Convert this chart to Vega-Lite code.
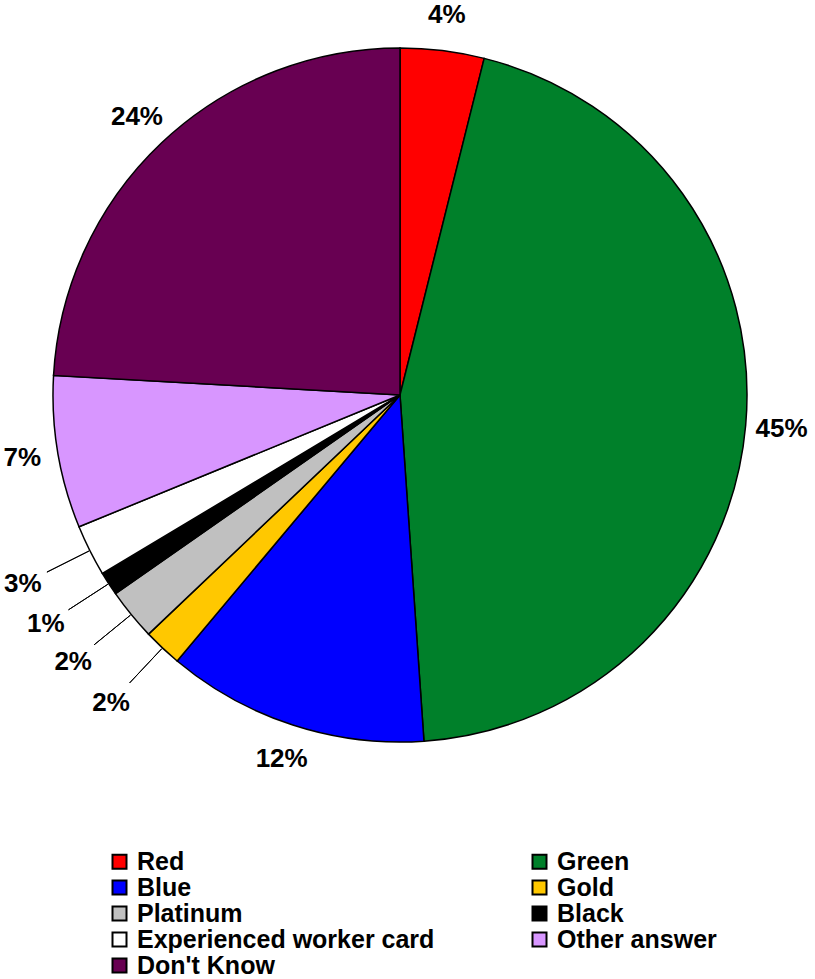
{
  "$schema": "https://vega.github.io/schema/vega-lite/v6.json",
  "width": 800,
  "height": 790,
  "padding": 0,
  "background": "white",
  "view": {"stroke": null},
  "data": {
    "values": [
      {"order": 1, "category": "Red", "value": 3.9, "label": "4%"},
      {"order": 2, "category": "Green", "value": 45.0, "label": "45%"},
      {"order": 3, "category": "Blue", "value": 12.2, "label": "12%"},
      {"order": 4, "category": "Gold", "value": 1.8, "label": "2%"},
      {"order": 5, "category": "Platinum", "value": 2.4, "label": "2%"},
      {"order": 6, "category": "Black", "value": 1.1, "label": "1%"},
      {"order": 7, "category": "Experienced worker card", "value": 2.4, "label": "3%"},
      {"order": 8, "category": "Other answer", "value": 7.1, "label": "7%"},
      {"order": 9, "category": "Don't Know", "value": 24.1, "label": "24%"}
    ]
  },
  "transform": [
    {"window": [{"op": "sum", "field": "value", "as": "end"}], "sort": [{"field": "order"}]},
    {"calculate": "datum.end - datum.value", "as": "start"},
    {"calculate": "datum.end - datum.value / 2", "as": "mid"}
  ],
  "layer": [
    {
      "mark": {"type": "arc", "radius": 347, "stroke": "black", "strokeWidth": 1.5},
      "encoding": {
        "theta": {
          "field": "start",
          "type": "quantitative",
          "scale": {"domain": [0, 100], "range": [0, 6.283185307179586]}
        },
        "theta2": {"field": "end"},
        "color": {
          "field": "category",
          "type": "nominal",
          "scale": {
            "domain": ["Red", "Green", "Blue", "Gold", "Platinum", "Black", "Experienced worker card", "Other answer", "Don't Know"],
            "range": ["#ff0000", "#00802a", "#0000ff", "#ffc800", "#c0c0c0", "#000000", "#ffffff", "#d896ff", "#680052"]
          },
          "legend": {
            "orient": "none",
            "direction": "horizontal",
            "legendX": 107,
            "legendY": 849,
            "columns": 2,
            "title": null,
            "symbolType": "square",
            "symbolSize": 196,
            "symbolStrokeColor": "black",
            "symbolStrokeWidth": 2,
            "symbolOpacity": 1,
            "labelFont": "Liberation Sans",
            "labelFontSize": 25,
            "labelFontWeight": "bold",
            "labelColor": "black",
            "labelOffset": 5,
            "labelLimit": 400,
            "columnPadding": 92,
            "rowPadding": 0
          }
        }
      }
    },
    {
      "transform": [{"filter": "datum.value > 3"}],
      "mark": {
        "type": "text",
        "radius": 383,
        "font": "Liberation Sans",
        "fontSize": 26,
        "fontWeight": "bold",
        "align": "center",
        "baseline": "middle",
        "color": "black"
      },
      "encoding": {
        "theta": {
          "field": "mid",
          "type": "quantitative",
          "stack": null,
          "scale": {"domain": [0, 100], "range": [0, 6.283185307179586]}
        },
        "text": {"field": "label"}
      }
    },
    {
      "transform": [{"filter": "datum.value <= 3"}],
      "mark": {
        "type": "text",
        "radius": 422,
        "font": "Liberation Sans",
        "fontSize": 26,
        "fontWeight": "bold",
        "align": "center",
        "baseline": "middle",
        "color": "black"
      },
      "encoding": {
        "theta": {
          "field": "mid",
          "type": "quantitative",
          "stack": null,
          "scale": {"domain": [0, 100], "range": [0, 6.283185307179586]}
        },
        "text": {"field": "label"}
      }
    },
    {
      "transform": [{"filter": "datum.value <= 3"}],
      "mark": {
        "type": "arc",
        "radius": 395,
        "radius2": 348,
        "filled": false,
        "stroke": "black",
        "strokeWidth": 1
      },
      "encoding": {
        "theta": {
          "field": "mid",
          "type": "quantitative",
          "stack": null,
          "scale": {"domain": [0, 100], "range": [0, 6.283185307179586]}
        },
        "theta2": {"field": "mid"}
      }
    }
  ]
}
